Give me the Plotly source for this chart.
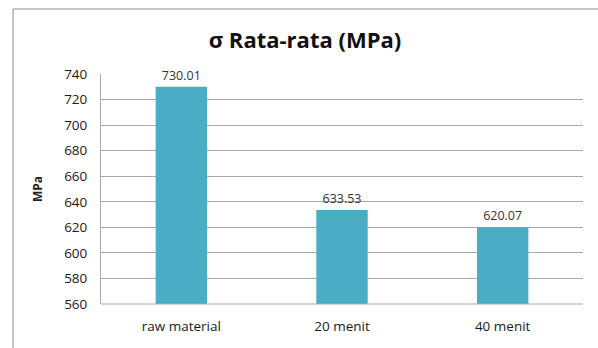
import plotly.graph_objects as go

categories = ["raw material", "20 menit", "40 menit"]
values = [730.01, 633.53, 620.07]
y_ticks = [560, 580, 600, 620, 640, 660, 680, 700, 720, 740]

W, H = 598, 348
L, R, T, B = 101, 15, 74, 44
pw, ph = W - L - R, H - T - B

def px_x(x):
    return (x - L) / pw

def px_y(y):
    return (H - B - y) / ph

fig = go.Figure(go.Bar(
    x=categories,
    y=values,
    width=0.32,
    marker=dict(color="#4BACC6", line=dict(width=0)),
    text=[f"{v:.2f}" for v in values],
    textposition="outside",
    textfont=dict(family="Open Sans, Liberation Sans, sans-serif", size=12.5, color="#333333"),
    cliponaxis=False,
))

fig.update_layout(
    width=W, height=H,
    margin=dict(l=L, r=R, t=T, b=B),
    paper_bgcolor="white",
    plot_bgcolor="white",
    showlegend=False,
    font=dict(family="Open Sans, Liberation Sans, sans-serif", color="#222222"),
    title=dict(
        text="<b>σ Rata-rata (MPa)</b>",
        x=305 / W, xanchor="center",
        y=1 - 40 / H, yanchor="middle",
        font=dict(size=22, color="#111111"),
    ),
    xaxis=dict(
        showgrid=False,
        showline=False,
        ticks="",
        tickfont=dict(size=13.5, color="#1a1a1a"),
        ticklabelstandoff=12,
    ),
    yaxis=dict(
        range=[560, 740],
        tickvals=y_ticks,
        showgrid=True,
        gridcolor="#a8a8a8",
        gridwidth=1,
        showline=True,
        linecolor="#a8a8a8",
        zeroline=False,
        ticks="",
        tickfont=dict(size=13.5, color="#1a1a1a"),
        ticklabelstandoff=10,
        title=dict(text="<b>MPa</b>", font=dict(size=12, color="#222222"), standoff=18),
    ),
    shapes=[
        dict(type="line", xref="paper", yref="paper",
             x0=px_x(13), x1=px_x(600), y0=px_y(9), y1=px_y(9),
             line=dict(color="#8c8c8c", width=1)),
        dict(type="line", xref="paper", yref="paper",
             x0=px_x(13), x1=px_x(13), y0=px_y(9), y1=px_y(350),
             line=dict(color="#8c8c8c", width=1)),
        dict(type="line", xref="paper", yref="paper",
             x0=0, x1=1, y0=0, y1=0,
             line=dict(color="#a8a8a8", width=1)),
    ],
)

fig.write_html("out.html")
